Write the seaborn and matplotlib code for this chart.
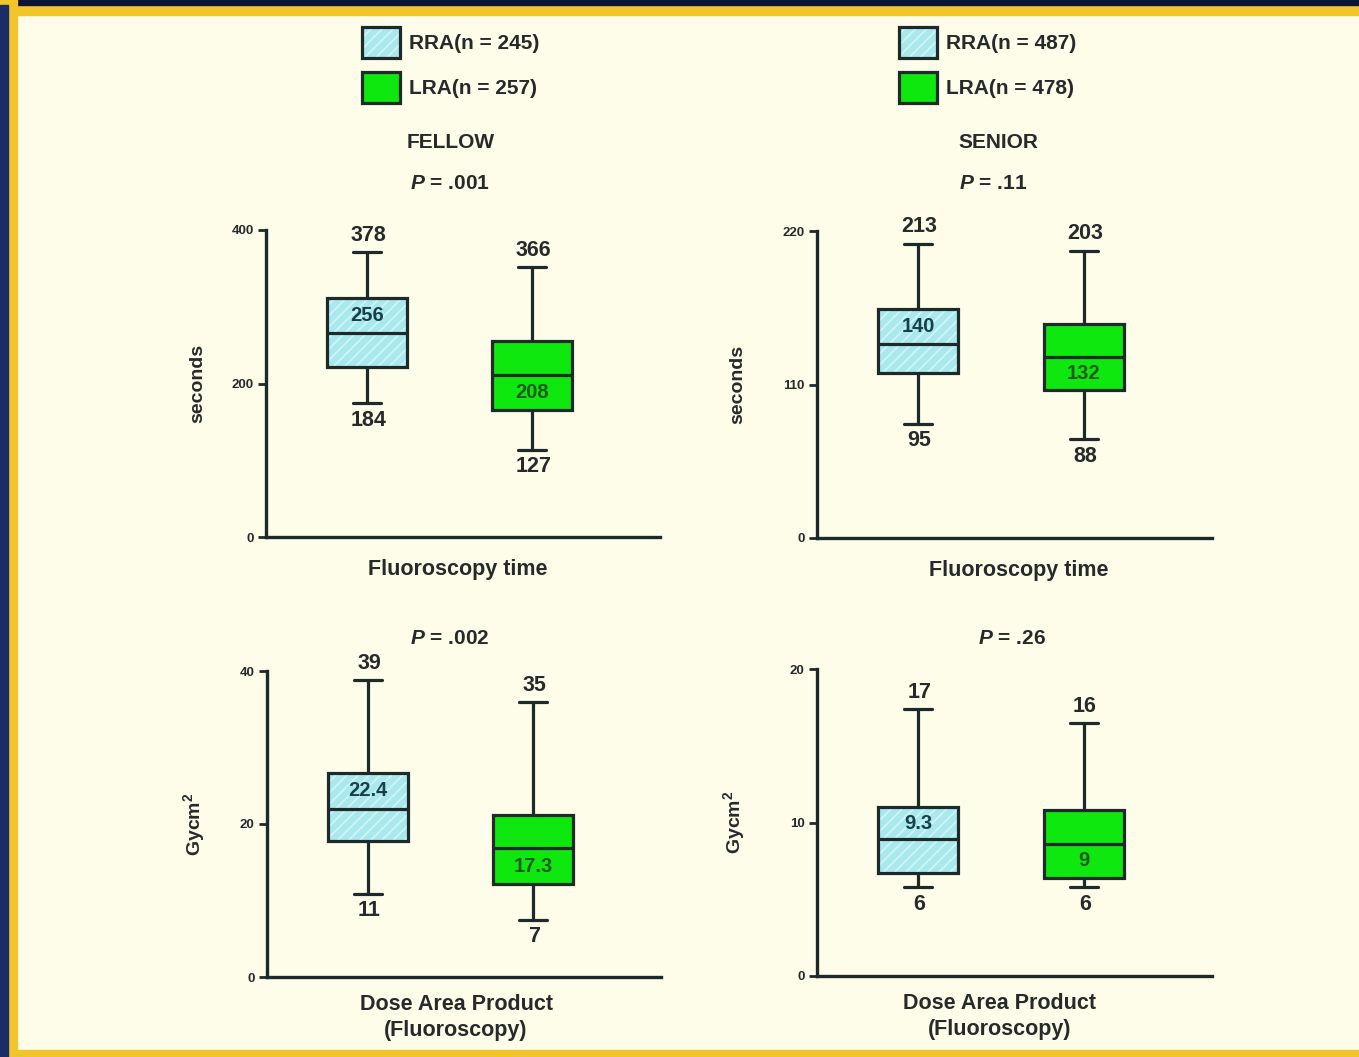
import numpy as np
import pandas as pd
import matplotlib
matplotlib.use("Agg")
import matplotlib.pyplot as plt
import matplotlib.colors as mcolors
from matplotlib.patches import Rectangle, Patch
import seaborn as sns

# ---------------- data ----------------
groups = ["RRA", "LRA"]
# five-number summaries: [whisker low, Q1, median, Q3, whisker high]
fellow_time_rra = [174, 221, 266, 311, 371]
fellow_time_lra = [114, 166, 211, 256, 352]
senior_time_rra = [82, 118, 139, 164, 211]
senior_time_lra = [71, 106, 130, 153, 206]
fellow_dap_rra = [10.9, 17.8, 22.0, 26.7, 38.8]
fellow_dap_lra = [7.5, 12.1, 16.8, 21.2, 35.9]
senior_dap_rra = [5.8, 6.7, 8.9, 11.0, 17.4]
senior_dap_lra = [5.8, 6.4, 8.6, 10.8, 16.5]

# printed annotations: top whisker, median, bottom whisker  (RRA, LRA)
fellow_time_top = ["378", "366"]
fellow_time_med = ["256", "208"]
fellow_time_low = ["184", "127"]
senior_time_top = ["213", "203"]
senior_time_med = ["140", "132"]
senior_time_low = ["95", "88"]
fellow_dap_top = ["39", "35"]
fellow_dap_med = ["22.4", "17.3"]
fellow_dap_low = ["11", "7"]
senior_dap_top = ["17", "16"]
senior_dap_med = ["9.3", "9"]
senior_dap_low = ["6", "6"]

fellow_time_ticks = [0, 200, 400]
senior_time_ticks = [0, 110, 220]
fellow_dap_ticks = [0, 20, 40]
senior_dap_ticks = [0, 10, 20]

fellow_legend = ["RRA(n = 245)", "LRA(n = 257)"]
senior_legend = ["RRA(n = 487)", "LRA(n = 478)"]
p_values = ["$P$ = .001", "$P$ = .11", "$P$ = .002", "$P$ = .26"]
column_titles = ["FELLOW", "SENIOR"]

# ---------------- style ----------------
CREAM = "#fdfde9"
CYAN = "#a9e9ee"
HATCH = "#cff4f6"
GREEN = "#0ee80e"
EDGE = "#1e2a2a"
TEXT = "#262a2a"
MED_TEXT = ["#17404c", "#205a20"]
NAVY = "#1b2c66"
YELLOW = "#f2c52a"

sns.set_theme(style="ticks")
plt.rcParams["font.family"] = ["Liberation Sans", "DejaVu Sans"]
plt.rcParams["mathtext.fontset"] = "custom"
plt.rcParams["mathtext.it"] = "Liberation Sans:italic:bold"
plt.rcParams["mathtext.rm"] = "Liberation Sans:bold"
plt.rcParams["hatch.linewidth"] = 1.3

W, H = 1359, 1057
fig = plt.figure(figsize=(W / 100, H / 100), dpi=100)
fig.patch.set_facecolor(CREAM)

# frame
fig.patches.append(Rectangle((0, 1 - 15 / H), 1, 15 / H, transform=fig.transFigure, color=YELLOW, zorder=0))
fig.patches.append(Rectangle((0, 1 - 5 / H), 1, 5 / H, transform=fig.transFigure, color="#0b1430", zorder=0))
fig.patches.append(Rectangle((0, 0), 1, 7 / H, transform=fig.transFigure, color=YELLOW, zorder=0))
fig.patches.append(Rectangle((0, 0), 17 / W, 1, transform=fig.transFigure, color=YELLOW, zorder=0))
fig.patches.append(Rectangle((0, 0), 8 / W, 1 - 5 / H, transform=fig.transFigure, color=NAVY, zorder=0))


def set_hatch_color(p, c):
    if hasattr(p, "set_hatchcolor"):
        p.set_hatchcolor(c)
    else:
        p._hatch_color = mcolors.to_rgba(c)


def axes_at(x0, y_top, x1, y_bot):
    return fig.add_axes([x0 / W, 1 - y_bot / H, (x1 - x0) / W, (y_bot - y_top) / H])


def draw_panel(ax, rra, lra, ticks, tops, meds, lows, ylabel, ylabel_x, xlabel, xlabel_xy):
    df = pd.DataFrame({"group": np.repeat(groups, 5),
                       "value": np.concatenate([rra, lra])})
    sns.boxplot(data=df, x="group", y="value", hue="group", order=groups, hue_order=groups,
                palette=[CYAN, GREEN], saturation=1, whis=(0, 100), width=0.485,
                linecolor=EDGE, linewidth=2.3, showfliers=False, legend=False, ax=ax,
                capwidths=0.17)
    ax.set_facecolor("none")
    # hatch on RRA box
    for p in ax.patches:
        fc = mcolors.to_hex(p.get_facecolor())
        if fc == mcolors.to_hex(CYAN):
            p.set_hatch("///")
            set_hatch_color(p, HATCH)
    ax.set_ylim(ticks[0], ticks[-1])
    ax.set_xlim(-0.612, 1.776)
    ax.set_yticks(ticks)
    ax.set_yticklabels([str(t) for t in ticks], fontsize=9.5, fontweight="bold", color=TEXT)
    ax.set_xticks([])
    ax.tick_params(axis="y", length=6, width=2.0, color=EDGE, pad=3, direction="out")
    for s in ["top", "right"]:
        ax.spines[s].set_visible(False)
    for s in ["left", "bottom"]:
        ax.spines[s].set_linewidth(2.4)
        ax.spines[s].set_color(EDGE)
    ax.set_ylabel(ylabel, fontsize=14, fontweight="bold", color=TEXT)
    ax.yaxis.set_label_coords(ylabel_x, 0.5)
    ax.set_xlabel(xlabel, fontsize=15.5, fontweight="bold", color=TEXT, linespacing=1.35)
    ax.xaxis.set_label_coords(*xlabel_xy)
    for i, vals in enumerate([rra, lra]):
        lo, q1, med, q3, hi = vals
        ax.annotate(tops[i], (i, hi), xytext=(1, 12), textcoords="offset points",
                    ha="center", va="center", fontsize=15.5, fontweight="bold", color=TEXT)
        ax.annotate(lows[i], (i, lo), xytext=(1, -12.5), textcoords="offset points",
                    ha="center", va="center", fontsize=15.5, fontweight="bold", color=TEXT)
        ymid = (med + q3) / 2 if i == 0 else (med + q1) / 2
        ax.text(i, ymid, meds[i], ha="center", va="center", fontsize=14.5,
                fontweight="bold", color=MED_TEXT[i], zorder=10)


ax1 = axes_at(266, 230, 660, 537)
draw_panel(ax1, fellow_time_rra, fellow_time_lra, fellow_time_ticks, fellow_time_top,
           fellow_time_med, fellow_time_low, "seconds", -0.152, "Fluoroscopy time", (0.487, -0.072))
ax2 = axes_at(817, 231, 1212, 538)
draw_panel(ax2, senior_time_rra, senior_time_lra, senior_time_ticks, senior_time_top,
           senior_time_med, senior_time_low, "seconds", -0.178, "Fluoroscopy time", (0.511, -0.072))
ax3 = axes_at(267, 671, 661, 977)
draw_panel(ax3, fellow_dap_rra, fellow_dap_lra, fellow_dap_ticks, fellow_dap_top,
           fellow_dap_med, fellow_dap_low, "Gycm$^2$", -0.152,
           "Dose Area Product\n(Fluoroscopy)", (0.48, -0.055))
ax4 = axes_at(817, 669, 1212, 976)
draw_panel(ax4, senior_dap_rra, senior_dap_lra, senior_dap_ticks, senior_dap_top,
           senior_dap_med, senior_dap_low, "Gycm$^2$", -0.178,
           "Dose Area Product\n(Fluoroscopy)", (0.463, -0.055))

# titles and p-values
fig.text(451 / W, 1 - 143 / H, column_titles[0], ha="center", va="center",
         fontsize=15, fontweight="bold", color=TEXT)
fig.text(998 / W, 1 - 143 / H, column_titles[1], ha="center", va="center",
         fontsize=15, fontweight="bold", color=TEXT)
for txt, (x, y) in zip(p_values, [(450, 184), (993, 184), (450, 639), (1012, 639)]):
    fig.text(x / W, 1 - y / H, txt, ha="center", va="center", fontsize=15,
             fontweight="bold", color=TEXT)

# legends
def legend_handles():
    h1 = Patch(facecolor=CYAN, edgecolor=EDGE, hatch="///", linewidth=2.3)
    set_hatch_color(h1, HATCH)
    h2 = Patch(facecolor=GREEN, edgecolor=EDGE, linewidth=2.3)
    return [h1, h2]

for labels, x in [(fellow_legend, 362), (senior_legend, 899)]:
    leg = fig.legend(legend_handles(), labels, loc="upper left",
                     bbox_to_anchor=(x / W, 1 - 27 / H), frameon=False, borderpad=0,
                     borderaxespad=0, handlelength=1.8, handleheight=1.9,
                     labelspacing=0.68, handletextpad=0.45,
                     prop={"size": 15, "weight": "bold"})
    for t in leg.get_texts():
        t.set_color(TEXT)
    for p in leg.get_patches():
        if mcolors.to_hex(p.get_facecolor()) == mcolors.to_hex(CYAN):
            set_hatch_color(p, HATCH)

fig.savefig("out.png", dpi=100, facecolor=CREAM)
